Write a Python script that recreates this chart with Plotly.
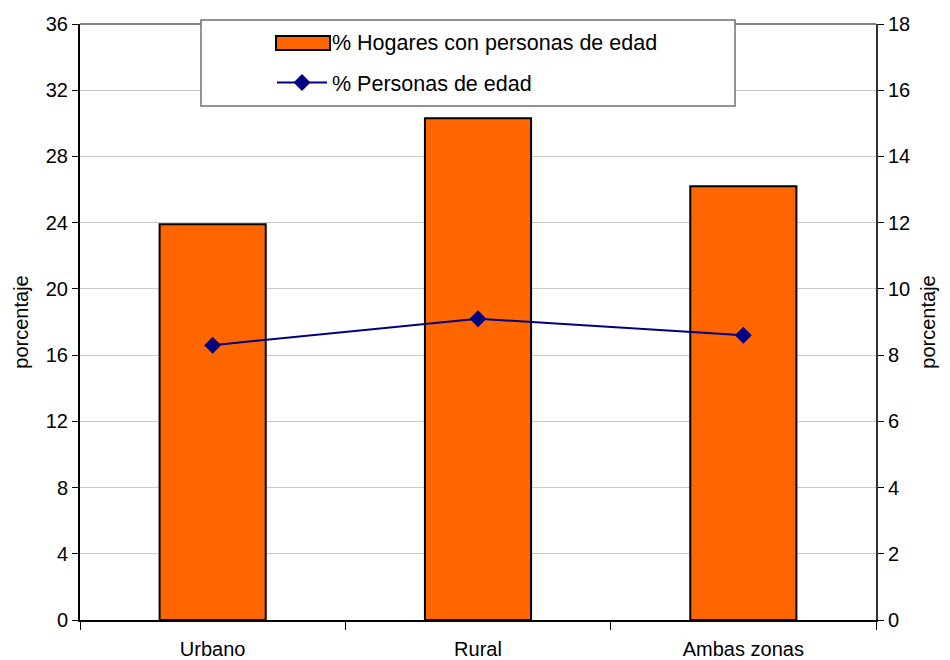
import plotly.graph_objects as go

# Zones and series
zonas = ["Urbano", "Rural", "Ambas zonas"]
hogares_pct = [23.9, 30.3, 26.2]      # % Hogares con personas de edad (left axis)
personas_pct = [8.3, 9.1, 8.6]        # % Personas de edad (right axis)

left_ticks = list(range(0, 37, 4))
right_ticks = list(range(0, 19, 2))

FONT = "Liberation Sans, Arial, sans-serif"
BAR_COLOR = "#FF6600"
LINE_COLOR = "#000080"

# plot area in pixels: x 80..876, y 24..620
PX_L, PX_R, PX_T, PX_B = 80, 876, 24, 620


def px_x(px):
    return (px - PX_L) / (PX_R - PX_L)


def px_y(py):
    return (PX_B - py) / (PX_B - PX_T)


fig = go.Figure()
fig.add_trace(go.Bar(
    x=zonas, y=hogares_pct, name="% Hogares con personas de edad",
    marker=dict(color=BAR_COLOR, line=dict(color="black", width=2)),
    showlegend=False, yaxis="y",
))
# legend entry for the bars; its swatch is drawn as a wide rectangle shape
fig.add_trace(go.Scatter(
    x=[zonas[0]], y=[None], name="% Hogares con personas de edad",
    mode="lines", line=dict(color="rgba(0,0,0,0)", width=1),
    legendgroup="a", yaxis="y", hoverinfo="skip",
))
fig.add_trace(go.Scatter(
    x=zonas, y=personas_pct, name="% Personas de edad",
    mode="lines+markers",
    line=dict(color=LINE_COLOR, width=2),
    marker=dict(symbol="diamond", size=13, color=LINE_COLOR),
    legendgroup="b", yaxis="y2",
))

fig.update_layout(
    width=950, height=660,
    margin=dict(l=PX_L, r=950 - PX_R, t=PX_T, b=660 - PX_B),
    paper_bgcolor="white", plot_bgcolor="white",
    font=dict(family=FONT, size=20, color="black"),
    bargap=0.6,
    showlegend=True,
    legend=dict(
        x=px_x(272), y=px_y(21), xanchor="left", yanchor="top",
        bgcolor="rgba(0,0,0,0)", borderwidth=0,
        traceorder="grouped", tracegroupgap=10,
        font=dict(size=21.5, family=FONT),
        itemwidth=50,
    ),
    xaxis=dict(
        type="category", showline=True, linecolor="black", linewidth=2,
        ticks="outside", tickson="boundaries", ticklen=8, tickcolor="black",
        showgrid=False, tickfont=dict(size=20), ticklabelstandoff=10,
        automargin=False,
    ),
    yaxis=dict(
        range=[0, 36], tickvals=left_ticks, ticks="outside", ticklen=6,
        tickcolor="black", showline=True, linecolor="black", linewidth=2,
        showgrid=True, gridcolor="#cccccc", gridwidth=1, zeroline=False,
        tickfont=dict(size=20), automargin=False,
        title=dict(text="porcentaje", font=dict(size=20), standoff=12),
    ),
    yaxis2=dict(
        range=[0, 18], tickvals=right_ticks, overlaying="y", side="right",
        ticks="outside", ticklen=6, tickcolor="black",
        showline=True, linecolor="#333333", linewidth=2,
        showgrid=False, zeroline=False, tickfont=dict(size=20),
        automargin=False,
        title=dict(text="porcentaje", font=dict(size=20), standoff=12),
    ),
    shapes=[
        # top frame of the plot area
        dict(type="line", xref="paper", yref="paper", x0=0, x1=1, y0=1, y1=1,
             line=dict(color="#808080", width=2)),
        # legend frame
        dict(type="rect", xref="paper", yref="paper",
             x0=px_x(201), x1=px_x(735), y0=px_y(106), y1=px_y(20),
             line=dict(color="#707070", width=1.5), fillcolor="white",
             layer="above"),
        # bar swatch in the legend
        dict(type="rect", xref="paper", yref="paper",
             x0=px_x(276), x1=px_x(330), y0=px_y(50), y1=px_y(36),
             line=dict(color="black", width=2), fillcolor=BAR_COLOR,
             layer="above"),
    ],
)

fig.write_html("out.html")
